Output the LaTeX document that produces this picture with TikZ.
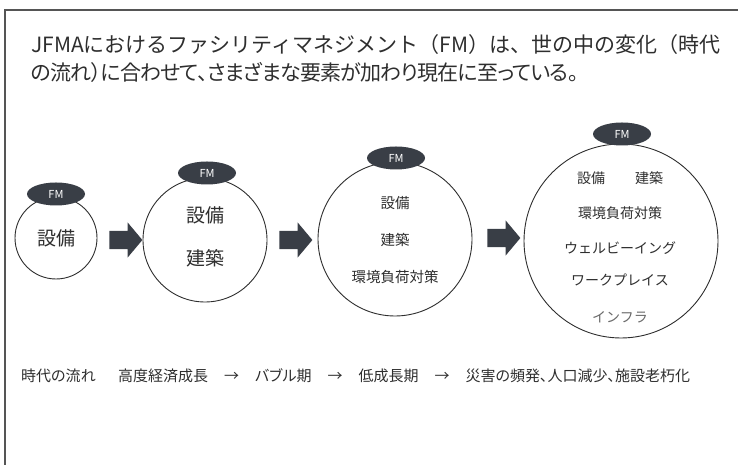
\documentclass[tikz,border=0pt]{standalone}
\usepackage{fontspec}
\usetikzlibrary{shapes.geometric,shapes.arrows}
\newfontfamily\jp{Noto Sans CJK JP}
\newfontfamily\jpp{Noto Sans CJK JP}[RawFeature=+palt]
\newfontfamily\jpn{Noto Sans CJK JP}[RawFeature=+palt, LetterSpace=-4]
\definecolor{ink}{HTML}{2E2E2E}
\definecolor{fmfill}{HTML}{393E46}
\definecolor{framegray}{HTML}{555555}
\definecolor{muted}{HTML}{6A6A6A}

\begin{document}
\begin{tikzpicture}[x=1pt, y=1pt,
  stage/.style={shape=circle, draw=ink, line width=0.9pt, inner sep=0pt, fill=white},
  fmtag/.style={shape=ellipse, fill=fmfill, inner sep=0pt,
    minimum width=58pt, minimum height=23pt,
    text=white, font=\jp\fontsize{11}{11}\selectfont},
  item/.style={text=ink, inner sep=0pt},
  bigitem/.style={item, font=\jp\fontsize{19}{19}\selectfont},
  miditem/.style={item, font=\jp\fontsize{14.5}{14.5}\selectfont},
  smallitem/.style={item, font=\jp\fontsize{14}{14}\selectfont},
  blockarrow/.style={shape=single arrow, fill=fmfill, draw=none, inner sep=9pt,
    minimum height=33pt, minimum width=35pt,
    single arrow head extend=8.5pt, single arrow tip angle=100},
]
\useasboundingbox (0,0) rectangle (738,465);

% frame
\draw[framegray, line width=1.2pt] (5,0) -- (5,455) -- (738,455);

\node[anchor=west, text=ink, inner sep=0pt,
  font=\jp\fontsize{21}{21}\selectfont] (title) at (31,420)
  {JFMAにおけるファシリティマネジメント（FM）は、世の中の変化（時代};
\node[anchor=west, text=ink, inner sep=0pt,
  font=\jpn\fontsize{21}{21}\selectfont] (title2) at (31,393)
  {の流れ）に合わせて、さまざまな要素が加わり現在に至っている。};

% stages
\node[stage, minimum size=82pt]  (c1) at (56,227) {};
\node[stage, minimum size=124pt] (c2) at (205,225) {};
\node[stage, minimum size=154pt] (c3) at (395,226) {};
\node[stage, minimum size=194pt] (c4) at (621,224) {};

\node[fmtag] (fm1) at (56,271)  {FM};
\node[fmtag] (fm2) at (207,292) {FM};
\node[fmtag] (fm3) at (396,307) {FM};
\node[fmtag] (fm4) at (622,331) {FM};

\node[bigitem] (c1a) at (56,227) {設備};

\node[bigitem] (c2a) at (205,250) {設備};
\node[bigitem] (c2b) at (205,207) {建築};

\node[miditem] (c3a) at (395,262) {設備};
\node[miditem] (c3b) at (395,225) {建築};
\node[miditem] (c3c) at (395,188) {環境負荷対策};

\node[smallitem] (c4a) at (591,287) {設備};
\node[smallitem] (c4b) at (649,287) {建築};
\node[smallitem] (c4c) at (620,252) {環境負荷対策};
\node[smallitem] (c4d) at (620,217) {ウェルビーイング};
\node[smallitem] (c4e) at (620,185) {ワークプレイス};
\node[smallitem, text=muted] (c4f) at (620,148) {インフラ};

\begin{scope}[every node/.style={blockarrow}]
  \node (arr1) at (122,225) {};
  \node (arr2) at (292,225) {};
  \node (arr3) at (500,227) {};
\end{scope}

% time line
\node[item, anchor=west, font=\jpp\fontsize{15}{15}\selectfont] (era) at (21,89) {時代の流れ};
\node[item, anchor=west, font=\jpp\fontsize{15}{15}\selectfont] (flow) at (118,89)
  {高度経済成長\hspace{16pt}→\hspace{16pt}バブル期\hspace{16pt}→\hspace{16pt}低成長期\hspace{16pt}→\hspace{16pt}災害の頻発、人口減少、施設老朽化};

\end{tikzpicture}
\end{document}
